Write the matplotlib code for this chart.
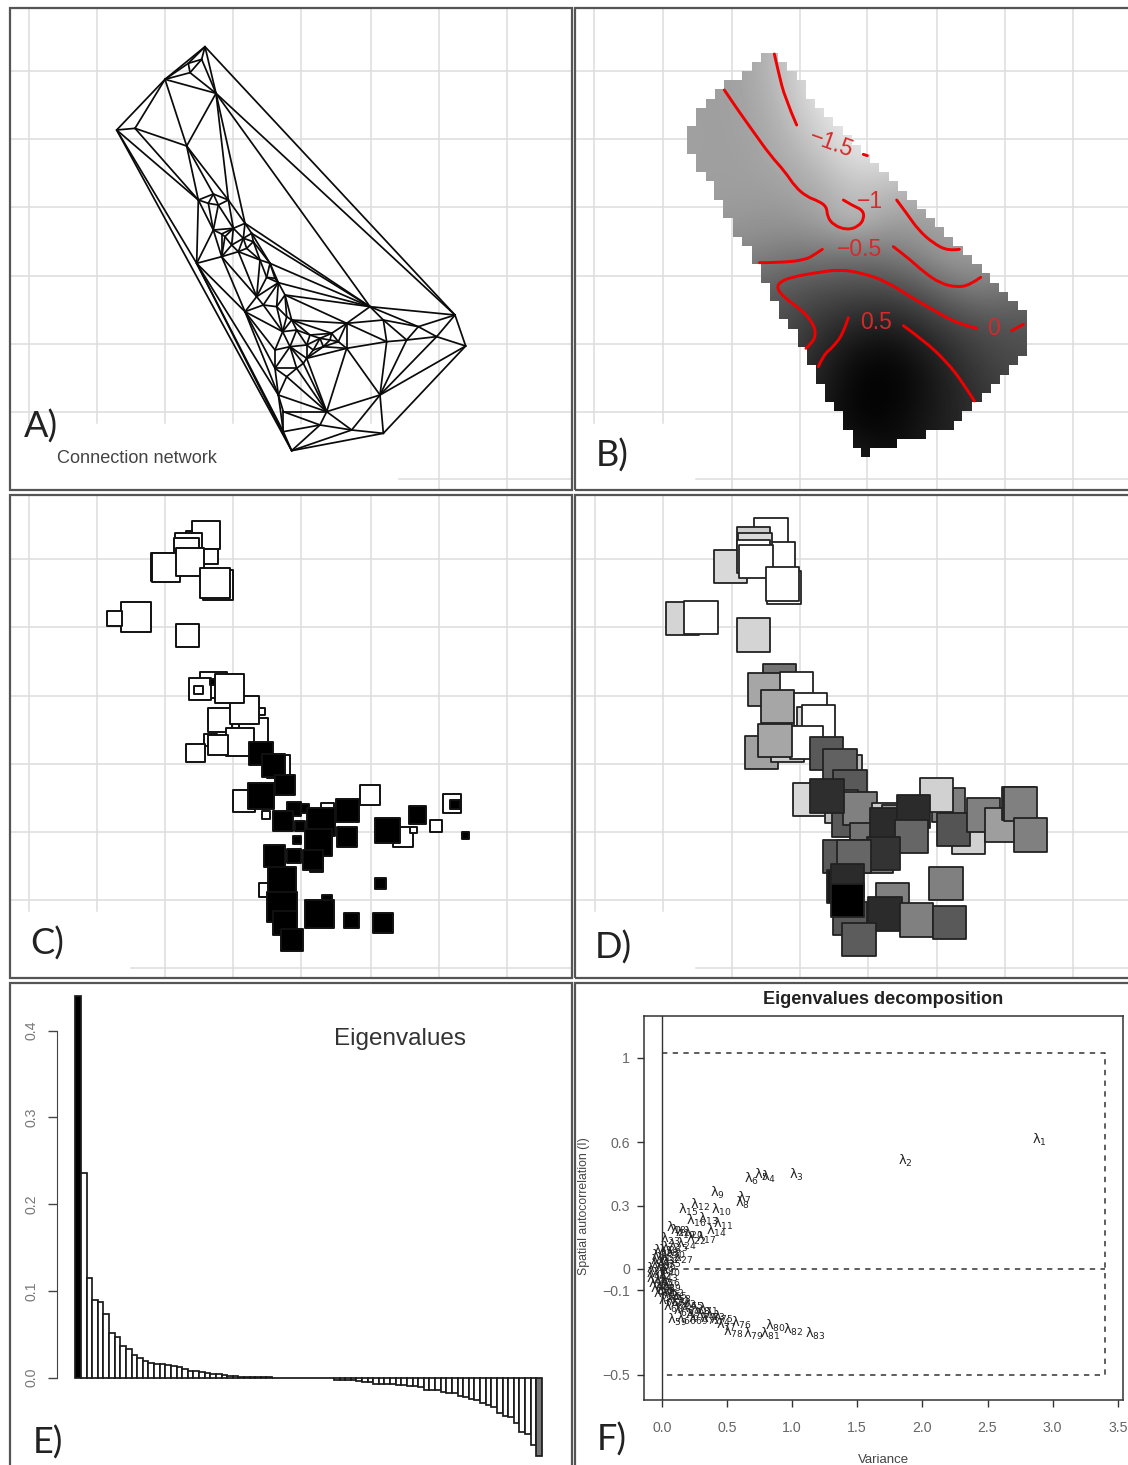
import matplotlib
matplotlib.use("Agg")
import matplotlib.pyplot as plt
from matplotlib.patches import Rectangle, Polygon, PathPatch
from matplotlib.path import Path
from matplotlib.tri import Triangulation
import numpy as np

W, H = 1128, 1465
plt.rcParams['font.family'] = ['Liberation Sans', 'DejaVu Sans']
plt.rcParams['mathtext.fontset'] = 'dejavusans'

# ---------- panel A: sites of the connection network (map units)
net_x = [345,335,295,300,225,378,135,80,290,
         325,370,415,385,355,370,395,465,485,490,460,405,395,445,320,
         530,555,565,520,465,585,
         605,578,650,690,725,770,745,770,700,840,880,890,985,950,1040,1095,1127,
         555,620,650,565,580,710,690,785,880,870,580,605,
         430,425,470,510,540,500,560,620,590,670,640,590,600,555,720,660]
net_y = [50,88,100,128,148,190,295,300,348,
         510,492,510,525,520,600,612,580,610,635,625,620,680,665,700,
         742,745,758,825,845,795,
         870,905,945,925,910,880,935,955,950,830,870,935,890,930,920,855,948,
         1015,1015,985,1095,1145,1145,1185,1200,1210,1095,1205,1262,
         595,645,655,690,700,800,830,900,860,960,1000,1040,950,960,930,915]

# ---------- panel B: interpolated score surface (grey level)
surface = [
 [.62,.62,.66,.78,.88,.90,.90,.88,.85,.80,.75],
 [.62,.62,.65,.76,.90,.93,.92,.88,.85,.80,.75],
 [.63,.62,.64,.72,.85,.93,.92,.85,.80,.75,.70],
 [.63,.62,.63,.68,.76,.88,.88,.80,.75,.70,.65],
 [.62,.62,.62,.63,.68,.76,.74,.70,.70,.68,.65],
 [.60,.60,.58,.58,.62,.73,.62,.62,.64,.62,.60],
 [.52,.52,.52,.47,.46,.44,.46,.53,.62,.60,.55],
 [.40,.40,.38,.34,.31,.29,.29,.34,.44,.50,.42],
 [.36,.36,.34,.29,.21,.16,.13,.19,.27,.32,.34],
 [.30,.30,.28,.25,.15,.05,.02,.08,.18,.26,.30],
 [.20,.20,.20,.18,.12,.02,.00,.05,.14,.22,.27],
 [.12,.12,.12,.12,.10,.02,.02,.08,.14,.20,.25],
 [.12,.12,.12,.12,.12,.12,.05,.08,.14,.20,.25]]
row_left = [272,245,215,163,135,107,78,78,50,50,50,78,78,107,133,133,160,160,190,190,217,245,245,272,272,300,300,328,328,355,383,383,410,410,437,437,465,465,492,520,520,548,548,573]
row_right = [325,352,380,407,407,435,462,490,518,545,573,600,628,656,684,712,740,767,795,823,850,878,906,935,960,988,1015,1045,1072,1072,1072,1072,1072,1045,1018,990,963,936,906,876,852,768,681,600]
contour_lines = [
 [(313,42),(325,95),(345,175),(380,255)],
 [(580,343),(592,347)],
 [(163,150),(200,205),(250,275),(300,345),(345,395),(375,440),(410,470),(445,483),(470,500),(472,530),(490,555),(530,570),(565,560),(583,535),(578,510),(550,498),(520,480)],
 [(680,480),(710,520),(745,570),(790,610),(835,633),(868,628)],
 [(268,668),(330,668),(405,660),(435,643),(457,628)],
 [(670,620),(710,650),(760,695),(810,730),(860,742),(900,735),(932,712)],
 [(920,865),(860,850),(790,810),(720,770),(650,725),(580,700),(510,688),(440,698),(370,710),(330,725),(320,745),(345,775),(395,810),(430,850),(438,885),(425,910),(408,925)],
 [(1025,872),(1060,853)],
 [(535,833),(520,880),(490,920),(460,945),(445,980)],
 [(700,857),(760,900),(830,965),(880,1030),(913,1083)]]
contour_labels = [("\u22121.5",485,310,-20),("\u22121",600,485,0),("\u22120.5",568,627,0),("0",972,865,0),("0.5",617,848,0)]

# ---------- panel C: site scores, size = magnitude, black = positive
c_x = [347,297,295,290,225,228,362,300,383,375,137,72,292, 370,330,325,370,372,390,515,490,463,418,450,362,383,316,
       565,513,550,585,462,513,527,645,612,580,712,630,692,773,840,620,770,685,680,668,553,612,527,575,575,585,712,688,605,783,878,870,940,970,893,983,1037,1085,1095,1127]
c_y = [75,72,110,120,170,172,138,155,225,218,321,325,377, 525,537,540,515,617,630,605,665,600,535,695,690,705,728,
       770,730,767,825,872,858,915,895,897,932,900,948,935,902,855,990,980,998,1065,1050,1038,1038,1140,1112,1190,1240,1170,1212,1290,1230,1238,1120,980,960,960,915,947,880,883,977]
c_side = [85,20,80,75,85,85,45,85,90,90,90,45,68, 80,65,25,18,35,70,20,85,85,85,85,38,60,55,
          70,70,70,58,65,78,25,25,42,60,40,30,85,70,62,25,60,82,40,60,65,42,40,85,90,72,30,85,65,45,60,33,60,20,75,52,35,55,28,22]
c_black = [0,0,0,0,0,0,0,0,0,0,0,0,0, 0,0,0,1,0,0,0,0,0,0,0,0,0,0,
           0,1,1,1,0,1,0,1,1,1,0,1,1,1,0,1,1,1,1,1,1,1,0,1,1,1,1,1,1,1,1,1,0,0,1,1,0,0,1,1]

# ---------- panel D: the same sites in constant size, grey = score
d_x = [363,310,385,242,315,310,318,402,397,98,153,310, 388,343,440,383,482,490,505,335,412,470,375,530,585,570,600,480,575,597,630,531,650,715,745,710,895,860,790,785,680,700,568,612,955,910,1000,1055,1105,1112,1142,580,600,592,592,727,705,888,800,898,627]
d_y = [75,100,145,170,120,140,155,232,222,325,322,375, 512,538,535,590,598,640,635,727,705,697,692,730,785,767,830,868,890,930,895,858,990,930,935,945,885,855,905,980,1040,1030,1040,1040,982,958,915,945,880,882,975,1130,1225,1112,1172,1170,1212,1120,1230,1238,1288]
d_grey = [1,.8,1,.85,.85,1,1,1,1,.83,1,.83, .45,.65,1,.65,1,.85,1,.63,.8,1,.65,.35,.75,.38,.35,.85,.75,.35,.5,.18,.45,.8,.6,.17,.5,.82,.17,.4,.5,.2,.35,.4,.82,.33,.5,.62,.3,.5,.5,.1,.35,.17,0,.5,.17,.5,.5,.35,.36]

# ---------- panel E: eigenvalues
eigenvalues = [.44,.236,.115,.09,.0876,.0729,.0515,.047,.037,.033,.026,.023,.019,.0175,.016,.0155,.0147,.0136,.012,.0097,
 .008,.0074,.0062,.005,.0046,.0039,.0031,.0023,.0015,.0012,.001,.0008,.0006,.0004,.0003,.0002,.0001,.0001,
 -.0005,-.0006,-.0006,-.0006,-.0007,-.0007,-.0008,-.0008,-.0025,-.003,-.003,-.003,-.0035,-.0046,-.0046,-.007,-.007,-.007,-.007,
 -.0085,-.0085,-.0097,-.0097,-.0105,-.0136,-.0147,-.0147,-.0167,-.018,-.018,-.021,-.0225,-.024,-.026,-.029,-.031,-.034,-.041,-.0446,-.0453,-.052,-.063,-.065,-.0775,-.09]
e_ticks = [0.0,0.1,0.2,0.3,0.4]

# ---------- panel F: variance against spatial autocorrelation
variance = [2.895,1.867,1.03,.818,.767,.69,.631,.621,.426,.46,.472,.293,.357,.421,.204,.268,.339,.114,.178,.242,.14,.268,.063,.191,.127,.076,.166,
 .05,.012,.101,-.001,.063,.025,-.014,.076,.038,-.008,-.039,.017,.063,-.044,-.001,.05,-.039,.012,.063,-.026,.025,.076,-.014,.038,.094,.012,.063,.119,.05,.101,.153,
 .114,.089,.14,.191,.166,.217,.242,.191,.255,.293,.281,.332,.357,.37,.409,.447,.472,.613,.498,.549,.703,.869,.83,1.009,1.176]
moran = [.61,.512,.446,.435,.446,.425,.336,.31,.36,.278,.211,.305,.238,.18,.281,.227,.148,.195,.172,.172,.18,.14,.14,.117,.109,.101,.05,
 .086,.086,.078,.062,.054,.047,.039,.031,.023,.015,0,0,-.008,-.024,-.024,-.032,-.047,-.055,-.055,-.071,-.078,-.078,-.094,-.102,-.102,-.118,-.125,-.118,-.149,-.149,-.133,
 -.243,-.18,-.165,-.157,-.196,-.188,-.165,-.235,-.219,-.188,-.235,-.219,-.188,-.235,-.219,-.243,-.227,-.254,-.266,-.298,-.305,-.269,-.305,-.29,-.305]
f_xticks = [0.0,0.5,1.0,1.5,2.0,2.5,3.0,3.5]
f_yticks = [1,0.6,0.3,0,-0.1,-0.5]
f_ylabels = ["1","0.6","0.3","0","\u22120.1","\u22120.5"]

fig = plt.figure(figsize=(W/100, H/100), dpi=100, facecolor='white')

GRID = '#dddddd'
GLW = 1.1
def px_axes(x0, y0, x1, y1):
    return fig.add_axes([x0/W, 1-y1/H, (x1-x0)/W, (y1-y0)/H])

def border(x0, y0, x1, y1):
    fig.add_artist(Rectangle((x0/W, 1-y1/H), (x1-x0)/W, (y1-y0)/H, transform=fig.transFigure,
                             fill=False, ec='#555555', lw=1.6))

def map_panel(box, ox, oy, vx_short, vx_long, grid_h, extra_from, extra_y):
    """Axes whose data units are 1/3 pixel, origin at pixel (ox, oy)."""
    x0, y0, x1, y1 = box
    ax = px_axes(x0, y0, x1, min(y1, H))
    ax.set_xlim((x0-ox)*3, (x1-ox)*3)
    ax.set_ylim((y1-oy)*3, (y0-oy)*3)
    ax.axis('off')
    stop = grid_h[-1] + 11
    for v in vx_short:
        ax.plot([(v-ox)*3]*2, [(y0-oy)*3, (stop-oy)*3], color=GRID, lw=GLW, zorder=0)
    for v in vx_long:
        ax.plot([(v-ox)*3]*2, [(y0-oy)*3, (y1-oy)*3], color=GRID, lw=GLW, zorder=0)
    for h in grid_h:
        ax.plot([(x0-ox)*3, (x1-ox)*3], [(h-oy)*3]*2, color=GRID, lw=GLW, zorder=0)
    ax.plot([(extra_from-ox)*3, (x1-ox)*3], [(extra_y-oy)*3]*2, color=GRID, lw=GLW, zorder=0)
    border(x0, y0, x1, y1)
    return ax

def letter(s, x, y):
    fig.text(x/W, 1-y/H, s, family='Lato', fontsize=26, color='#222222', ha='left', va='center')

def smooth_path(pts):
    verts = [pts[0]]; codes = [Path.MOVETO]
    for i in range(1, len(pts)-1):
        mid = ((pts[i][0]+pts[i+1][0])/2, (pts[i][1]+pts[i+1][1])/2)
        end = mid if i < len(pts)-2 else pts[-1]
        verts += [pts[i], end]; codes += [Path.CURVE3, Path.CURVE3]
    if len(pts) == 2:
        verts.append(pts[1]); codes.append(Path.LINETO)
    return Path(verts, codes)

# ---- A
hA = [71,139,207,276,344,412]
axA = map_panel((10,8,572,490), 90, 30, [29,97,165,233,301,371], [439,507], hA, 399, 479)
tri = Triangulation(net_x, net_y)
for a, b in tri.edges:
    axA.plot([net_x[a], net_x[b]], [net_y[a], net_y[b]], color='#0a0a0a', lw=1.25, solid_capstyle='round')
fig.text(137/W, 1-458/H, "Connection network", fontsize=13.1, color='#444444', ha='center', va='center')
letter("A)", 24, 427)

# ---- B
axB = map_panel((575,8,1135,490), 670, 40, [594,663], [732,800,867,937,1005,1073], hA, 696, 479)
step = 27.6
poly = []
for i, l in enumerate(row_left):
    poly += [(l, 38+step*i), (l, 38+step*(i+1))]
for i, r in reversed(list(enumerate(row_right))):
    poly += [(r, 38+step*(i+1)), (r, 38+step*i)]
xl, yl = axB.get_xlim(), axB.get_ylim()
im = axB.imshow(surface, cmap='gray', vmin=0, vmax=1, extent=(0,1100,1300,0), aspect='auto',
                interpolation='bicubic', zorder=1)
clip = Polygon(poly, closed=True, transform=axB.transData, fc='none', ec='none')
axB.add_patch(clip)
im.set_clip_path(clip)
axB.set_xlim(xl); axB.set_ylim(yl)
for line in contour_lines:
    axB.add_patch(PathPatch(smooth_path(line), fc='none', ec='#f00000', lw=2.1, zorder=3, capstyle='round'))
for s, x, y, rot in contour_labels:
    axB.text(x, y, s, color='#d62a2a', fontsize=16.5, ha='center', va='center', rotation=rot, zorder=3)
letter("B)", 596, 456)

# ---- C
hC = [559,627,696,764,832,900]
axC = map_panel((10,495,572,978), 90, 510, [29,97], [165,233,301,371,439,507], hC, 131, 968)
axC.scatter(c_x, c_y, s=[(v*0.24)**2 for v in c_side], marker='s',
            c=['black' if b else 'white' for b in c_black], edgecolors='#111111', linewidths=1.4, zorder=2)
letter("C)", 30, 944)

# ---- D
axD = map_panel((575,495,1135,978), 650, 510, [595,663], [732,800,868,937,1005,1073], hC, 696, 968)
axD.scatter(d_x, d_y, s=(100*0.24)**2, marker='s', c=[str(v) for v in d_grey],
            edgecolors='#222222', linewidths=1.3, zorder=2)
letter("D)", 595, 948)

# ---- E
axE = px_axes(10, 983, 572, H)
unit = 5.62
first = 78.2
axE.set_xlim((10-first)/unit+1, (572-first)/unit+1)
axE.set_ylim((1377.7-H)/868, (1377.7-983)/868)
idx = np.arange(1, len(eigenvalues)+1)
fills = ['black'] + ['white']*(len(eigenvalues)-2) + ['#777777']
axE.bar(idx, eigenvalues, width=1.0, color=fills, edgecolor='#1a1a1a', linewidth=1.25)
for s in ['top','right','bottom']:
    axE.spines[s].set_visible(False)
axE.spines['left'].set_position(('data', (57.3-first)/unit+1))
axE.spines['left'].set_bounds(0, 0.4)
axE.spines['left'].set_color('#444444')
axE.set_xticks([])
axE.set_yticks(e_ticks)
axE.set_yticklabels([f"{v:.1f}" for v in e_ticks], rotation=90, va='center', fontsize=10.2, color='#777777')
axE.tick_params(axis='y', length=6.5, width=1.0, color='#444444', pad=7)
axE.patch.set_alpha(0)
border(10, 983, 572, H+5)
fig.text(400/W, 1-1039/H, "Eigenvalues", fontsize=17.5, color='#333333', ha='center', va='center')
letter("E)", 33, 1443)

# ---- F
border(575, 983, 1135, H+5)
axF = px_axes(644, 1016, 1123, 1400)
axF.set_xlim((644-661.8)/130.3, (1123-661.8)/130.3)
axF.set_ylim((1269-1400)/211.5, (1269-1016)/211.5)
axF.axvline(0, color='#333333', lw=1.0)
axF.plot([0,3.4,3.4,0], [1.021,1.021,-.5,-.5], color='#333333', lw=1.1, ls=(0,(3.5,3.5)))
axF.plot([0,3.4], [0,0], color='#333333', lw=1.1, ls=(0,(3.5,3.5)))
for i, (vx, vy) in enumerate(zip(variance, moran)):
    axF.text(vx, vy, rf"$\mathrm{{\lambda}}_{{{i+1}}}$", fontsize=9.4, color='#222222', ha='center', va='center')
axF.set_xticks(f_xticks)
axF.set_xticklabels([f"{v:.1f}" for v in f_xticks], fontsize=10.2, color='#666666')
axF.set_yticks(f_yticks)
axF.set_yticklabels(f_ylabels, fontsize=10.2, color='#666666')
axF.tick_params(length=5.2, width=1.0, color='#333333')
axF.tick_params(axis='x', pad=10)
axF.tick_params(axis='y', pad=5)
for s in axF.spines.values():
    s.set_color('#333333'); s.set_linewidth(1.1)
fig.text(883/W, 1-999/H, "Eigenvalues decomposition", fontsize=13.1, fontweight='bold', color='#222222', ha='center', va='center')
fig.text(883/W, 1-1460/H, "Variance", fontsize=9.5, color='#444444', ha='center', va='center')
fig.text(584/W, 1-1206/H, "Spatial autocorrelation (I)", fontsize=8.8, color='#444444', rotation=90, ha='center', va='center')
letter("F)", 597, 1440)

fig.savefig("out.png", dpi=100, facecolor='white')
